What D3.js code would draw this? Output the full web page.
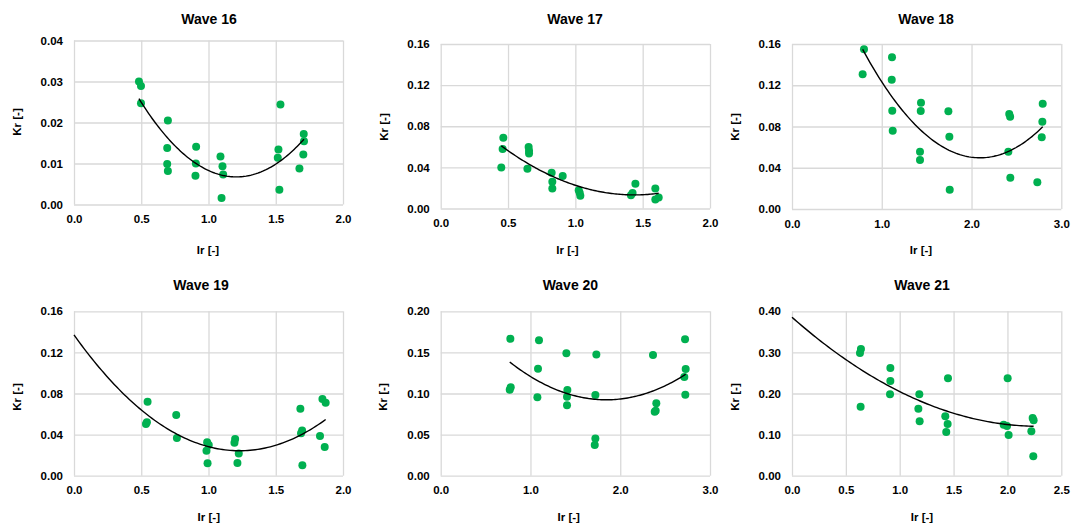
<!DOCTYPE html>
<html>
<head>
<meta charset="utf-8">
<script src="https://cdn.jsdelivr.net/npm/d3@7"></script>
<style>
  html, body { margin: 0; padding: 0; background: #fff; }
  svg { display: block; font-family: "Liberation Sans", Arial, sans-serif; font-weight: bold; }
</style>
</head>
<body>
<svg id="chart" width="1072" height="524"></svg>
<script>
// Measured Ir / Kr pairs for each wave condition
const wave16Ir = [0.483, 0.498, 0.498, 0.698, 0.693, 0.693, 0.698, 0.908, 0.906, 0.903, 1.089, 1.104, 1.109, 1.097, 1.535, 1.520, 1.515, 1.527, 1.708, 1.710, 1.705, 1.676];
const wave16Kr = [0.0300, 0.0289, 0.0247, 0.0205, 0.0138, 0.0099, 0.0082, 0.0141, 0.0100, 0.0070, 0.0117, 0.0093, 0.0073, 0.0016, 0.0244, 0.0134, 0.0114, 0.0036, 0.0172, 0.0154, 0.0122, 0.0088];

const wave17Ir = [0.465, 0.460, 0.450, 0.653, 0.656, 0.656, 0.644, 0.824, 0.829, 0.829, 0.906, 1.025, 1.032, 1.037, 1.413, 1.425, 1.446, 1.594, 1.594, 1.619];
const wave17Kr = [0.0688, 0.0578, 0.0399, 0.0597, 0.0561, 0.0535, 0.0386, 0.0347, 0.0260, 0.0195, 0.0315, 0.0178, 0.0153, 0.0123, 0.0130, 0.0150, 0.0240, 0.0195, 0.0088, 0.0107];

const wave18Ir = [0.802, 0.787, 1.114, 1.111, 1.117, 1.122, 1.437, 1.434, 1.426, 1.426, 1.742, 1.753, 1.757, 2.420, 2.430, 2.410, 2.432, 2.793, 2.789, 2.782, 2.733];
const wave18Kr = [0.1549, 0.1306, 0.1471, 0.1254, 0.0953, 0.0759, 0.1031, 0.0950, 0.0556, 0.0475, 0.0947, 0.0701, 0.0187, 0.0921, 0.0895, 0.0556, 0.0304, 0.1021, 0.0847, 0.0695, 0.0259];

const wave19Ir = [0.547, 0.542, 0.535, 0.760, 0.765, 0.990, 1.002, 0.985, 0.993, 1.198, 1.193, 1.225, 1.215, 1.683, 1.696, 1.688, 1.698, 1.847, 1.871, 1.829, 1.864];
const wave19Kr = [0.0720, 0.0519, 0.0503, 0.0591, 0.0367, 0.0325, 0.0299, 0.0243, 0.0120, 0.0357, 0.0321, 0.0217, 0.0123, 0.0652, 0.0441, 0.0412, 0.0101, 0.0746, 0.0711, 0.0386, 0.0279];

const wave20Ir = [0.776, 0.780, 0.769, 1.095, 1.084, 1.077, 1.400, 1.411, 1.407, 1.407, 1.734, 1.723, 1.723, 1.716, 2.365, 2.402, 2.395, 2.384, 2.722, 2.729, 2.714, 2.725];
const wave20Kr = [0.1667, 0.1075, 0.1047, 0.1647, 0.1302, 0.0953, 0.1489, 0.1043, 0.0961, 0.0856, 0.1473, 0.0982, 0.0454, 0.0373, 0.1469, 0.0880, 0.0791, 0.0779, 0.1659, 0.1298, 0.1201, 0.0986];

const wave21Ir = [0.640, 0.631, 0.637, 0.913, 0.913, 0.910, 1.182, 1.173, 1.185, 1.448, 1.423, 1.445, 1.432, 2.002, 1.965, 1.996, 2.011, 2.234, 2.243, 2.222, 2.240];
const wave21Kr = [0.3083, 0.2986, 0.1680, 0.2621, 0.2304, 0.1980, 0.1980, 0.1631, 0.1323, 0.2369, 0.1444, 0.1258, 0.1063, 0.2369, 0.1241, 0.1209, 0.0990, 0.1404, 0.1347, 0.1079, 0.0471];

// Panel titles and axis tick values
const panelTitles = ["Wave 16", "Wave 17", "Wave 18", "Wave 19", "Wave 20", "Wave 21"];
const xTicks16 = [0, 0.5, 1.0, 1.5, 2.0];
const xTicks18 = [0, 1.0, 2.0, 3.0];
const xTicks21 = [0, 0.5, 1.0, 1.5, 2.0, 2.5];
const yTicks16 = [0, 0.01, 0.02, 0.03, 0.04];
const yTicks17 = [0, 0.04, 0.08, 0.12, 0.16];
const yTicks20 = [0, 0.05, 0.10, 0.15, 0.20];
const yTicks21 = [0, 0.10, 0.20, 0.30, 0.40];

// Quadratic trendlines: where each starts (null = at the smallest Ir),
// and published coefficients [a, b, c] of a + b*Ir + c*Ir^2 (null = least-squares fit of the points)
const trendStart = [null, null, null, 0, null, 0];
const trendCoefs = [null, null, [0.3194, -0.2576, 0.0615], null, null, null];

const GREEN = "#00b050";
const GRID = "#d9d9d9";

// Layout of each panel: plot rectangle and label anchors
const layout = [
  { plot: [74, 40.5, 343, 204.5],      title: [209, 18.5],    xlab: [208, 254],   ylab: [17, 122] },
  { plot: [440.7, 44, 710, 208.5],     title: [575, 18.5],    xlab: [567.5, 254], ylab: [384, 127] },
  { plot: [792, 44, 1061.3, 209],      title: [926, 18.5],    xlab: [921, 254],   ylab: [735, 127] },
  { plot: [74, 311.3, 343, 475.7],     title: [201, 285.3],   xlab: [208.8, 521], ylab: [17, 397] },
  { plot: [440.7, 311.3, 710, 475.7],  title: [570.4, 285.3], xlab: [568.7, 521], ylab: [383, 397] },
  { plot: [792, 311.3, 1061.3, 475.7], title: [922, 285.3],   xlab: [922, 521],   ylab: [735, 397] }
];

const series = [
  { ir: wave16Ir, kr: wave16Kr, xt: xTicks16, yt: yTicks16 },
  { ir: wave17Ir, kr: wave17Kr, xt: xTicks16, yt: yTicks17 },
  { ir: wave18Ir, kr: wave18Kr, xt: xTicks18, yt: yTicks17 },
  { ir: wave19Ir, kr: wave19Kr, xt: xTicks16, yt: yTicks17 },
  { ir: wave20Ir, kr: wave20Kr, xt: xTicks18, yt: yTicks20 },
  { ir: wave21Ir, kr: wave21Kr, xt: xTicks21, yt: yTicks21 }
];

// Least-squares fit of y = a + b x + c x^2
function quadFit(xs, ys) {
  const S = [0, 0, 0, 0, 0], T = [0, 0, 0];
  xs.forEach((x, i) => {
    let p = 1;
    for (let k = 0; k < 5; k++) { S[k] += p; p *= x; }
    T[0] += ys[i]; T[1] += ys[i] * x; T[2] += ys[i] * x * x;
  });
  const M = [[S[0], S[1], S[2], T[0]], [S[1], S[2], S[3], T[1]], [S[2], S[3], S[4], T[2]]];
  for (let i = 0; i < 3; i++) {
    let piv = i;
    for (let r = i + 1; r < 3; r++) if (Math.abs(M[r][i]) > Math.abs(M[piv][i])) piv = r;
    [M[i], M[piv]] = [M[piv], M[i]];
    for (let r = 0; r < 3; r++) {
      if (r === i) continue;
      const f = M[r][i] / M[i][i];
      for (let c = i; c < 4; c++) M[r][c] -= f * M[i][c];
    }
  }
  return [M[0][3] / M[0][0], M[1][3] / M[1][1], M[2][3] / M[2][2]];
}

const svg = d3.select("#chart");
const fmtX = d3.format(".1f");
const fmtY = d3.format(".2f");
const FONT = '"Liberation Sans", Arial, sans-serif';

series.forEach((s, i) => {
  const L = layout[i];
  const [x0, y0, x1, y1] = L.plot;
  const x = d3.scaleLinear().domain([s.xt[0], s.xt[s.xt.length - 1]]).range([x0, x1]);
  const y = d3.scaleLinear().domain([s.yt[0], s.yt[s.yt.length - 1]]).range([y1, y0]);
  const g = svg.append("g");

  // Gridlines (the axis lines share the same light grey)
  const yAxis = d3.axisLeft(y).tickValues(s.yt).tickSize(-(x1 - x0)).tickPadding(11).tickFormat(fmtY);
  const xAxis = d3.axisBottom(x).tickValues(s.xt).tickSize(-(y1 - y0)).tickPadding(10.5).tickFormat(fmtX);

  const gy = g.append("g").attr("transform", `translate(${x0},0)`).call(yAxis);
  const gx = g.append("g").attr("transform", `translate(0,${y1})`).call(xAxis);
  [gx, gy].forEach(a => {
    a.select(".domain").remove();
    a.selectAll(".tick line").attr("stroke", GRID).attr("stroke-width", 1.3);
    a.selectAll(".tick text").attr("fill", "#000").style("font-size", "11.5px").style("font-weight", "bold")
      .style("font-family", FONT);
  });

  // Data points
  g.append("g").selectAll("circle").data(s.ir).join("circle")
    .attr("cx", d => x(d))
    .attr("cy", (d, j) => y(s.kr[j]))
    .attr("r", 4)
    .attr("fill", GREEN);

  // Quadratic trendline
  const [a, b, c] = trendCoefs[i] || quadFit(s.ir, s.kr);
  const lo = trendStart[i] !== null ? trendStart[i] : d3.min(s.ir);
  const hi = d3.max(s.ir);
  const pts = d3.range(0, 101).map(k => lo + (hi - lo) * k / 100);

  g.append("path")
    .datum(pts)
    .attr("fill", "none")
    .attr("stroke", "#000")
    .attr("stroke-width", 1.4)
    .attr("d", d3.line().x(d => x(d)).y(d => y(a + b * d + c * d * d)));

  // Titles
  g.append("text").attr("x", L.title[0]).attr("y", L.title[1]).attr("text-anchor", "middle")
    .attr("dominant-baseline", "central").style("font-size", "14px").text(panelTitles[i]);
  g.append("text").attr("x", L.xlab[0]).attr("y", L.xlab[1]).attr("text-anchor", "middle")
    .style("font-size", "11.5px").text("Ir [-]");
  g.append("text").attr("transform", `translate(${L.ylab[0]},${L.ylab[1]}) rotate(-90)`)
    .attr("text-anchor", "middle").attr("dominant-baseline", "central").style("font-size", "11.5px").text("Kr [-]");
});
</script>
</body>
</html>
